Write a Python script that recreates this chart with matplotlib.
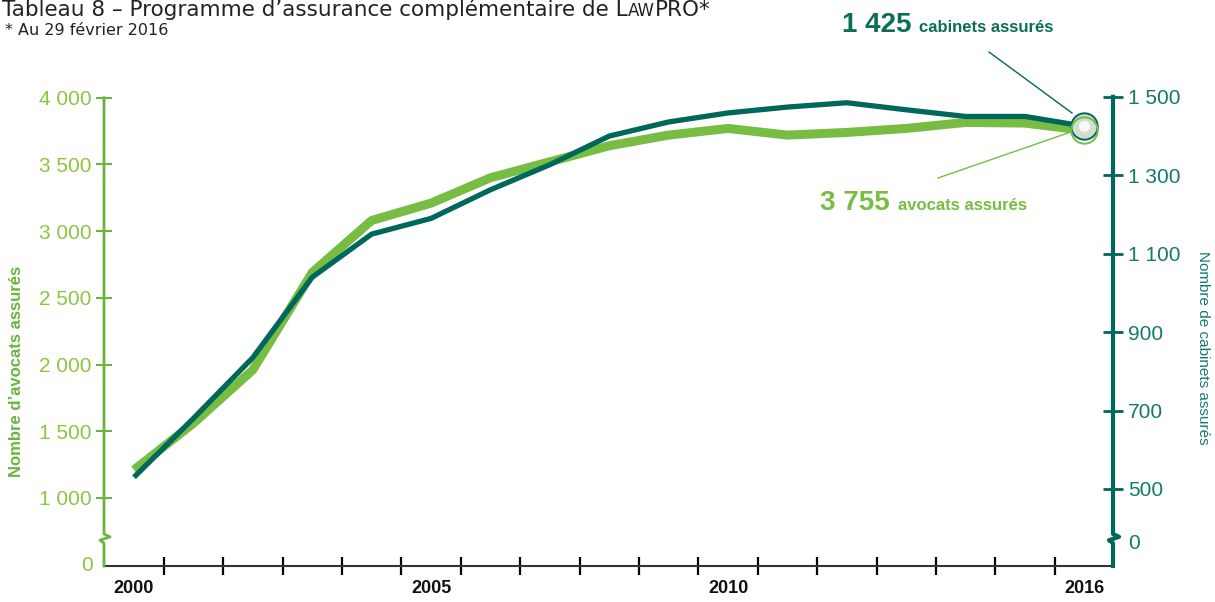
import matplotlib
matplotlib.use("Agg")
import matplotlib.pyplot as plt
import numpy as np
from matplotlib.lines import Line2D

W, H = 1215, 602
GREEN, GREEN_TXT, GREEN_LBL = "#77bd43", "#8cc63f", "#6cb33f"
TEAL, TEAL_TXT, TEAL_BIG = "#00675b", "#137a6b", "#0b6e55"
SANS = ["Liberation Sans", "DejaVu Sans"]

# data
years = list(range(2000, 2017))
avocats = [1210, 1560, 1960, 2690, 3080, 3210, 3400, 3520, 3640, 3720,
           3770, 3720, 3740, 3770, 3815, 3810, 3755]
cabinets = [530, 680, 835, 1040, 1150, 1190, 1263, 1327, 1400, 1436,
            1459, 1474, 1485, 1467, 1450, 1450, 1425]
avocats_ticks = [1000, 1500, 2000, 2500, 3000, 3500, 4000]
cabinets_ticks = [500, 700, 900, 1100, 1300, 1500]
year_labels = [2000, 2005, 2010, 2016]


def fx(px):
    return px / W


def fy(py):
    return 1 - py / H


def fmt(v):
    return f"{v:,}".replace(",", " ")


fig = plt.figure(figsize=(W / 100, H / 100), dpi=100)
ax = fig.add_axes([fx(104), fy(566), (1113 - 104) / W, (566 - 80) / H])
ax2 = ax.twinx()
ax.set_xlim(1999.495, 2016.48)
ax.set_ylim(490, 4133)
ax2.set_ylim(303.6, 1543)

ax.plot(years, avocats, color=GREEN, lw=6.5, solid_capstyle="butt", solid_joinstyle="round")
ax2.plot(years, cabinets, color=TEAL, lw=3.8, solid_capstyle="butt", solid_joinstyle="round", zorder=3)

# spines
for s in ["top", "right", "left"]:
    ax.spines[s].set_visible(False)
ax.spines["bottom"].set_color("#333")
ax.spines["bottom"].set_linewidth(1.5)
for s in ax2.spines.values():
    s.set_visible(False)

# left / right spines with axis break
y0, y1 = ax.get_ylim()
ltop = (4000 - y0) / (y1 - y0)
ax.plot([0, 0, -0.004, 0.006, 0, 0], [0, 0.047, 0.053, 0.060, 0.066, ltop],
        transform=ax.transAxes, clip_on=False, color=GREEN_LBL, lw=2, zorder=4)
r0, r1 = ax2.get_ylim()
rtop = (1500 - r0) / (r1 - r0)
ax2.plot([1, 1, 0.996, 1.006, 1, 1], [0, 0.047, 0.053, 0.060, 0.066, rtop],
         transform=ax2.transAxes, clip_on=False, color=TEAL, lw=3, zorder=4)

# ticks
ax.set_yticks(avocats_ticks)
ax.set_yticklabels([fmt(v) for v in avocats_ticks], family=SANS)
ax.tick_params(axis="y", direction="inout", length=12, width=1.5, color=GREEN_LBL,
               labelcolor=GREEN_TXT, labelsize=15, pad=3)
ax.set_xticks(np.arange(2000.5, 2016, 1))
ax.tick_params(axis="x", direction="inout", length=13, width=1.6, color="black", labelbottom=False)
ax2.set_yticks(cabinets_ticks)
ax2.set_yticklabels([fmt(v) for v in cabinets_ticks], family=SANS)
ax2.tick_params(axis="y", direction="inout", length=14, width=2, color=TEAL,
                labelcolor=TEAL_TXT, labelsize=15, pad=4)

ax.text(-0.011, 0.002, "0", transform=ax.transAxes, ha="right", va="center",
        color=GREEN_TXT, fontsize=15, family=SANS)
ax2.text(1.0149, 0.047, "0", transform=ax2.transAxes, ha="left", va="center",
         color=TEAL_TXT, fontsize=15, family=SANS)
for yr in year_labels:
    ax.text(yr, -0.046, str(yr), transform=ax.get_xaxis_transform(), ha="center", va="center",
            fontsize=13, fontweight="bold", family=SANS, color="#111")

fig.text(fx(17), fy(371), "Nombre d’avocats assurés", rotation=90, ha="center", va="center",
         fontsize=12, fontweight="bold", color=GREEN_LBL, family=SANS)
fig.text(fx(1203), fy(348), "Nombre de cabinets assurés", rotation=270, ha="center", va="center",
         fontsize=11, color=TEAL_TXT, family=SANS)

# end marker
ax2.plot([2016], [cabinets[-1]], "o", ms=19, mfc="#d3ddd0", mec=TEAL, mew=1.4, zorder=6, clip_on=False)
ax2.plot([2016], [avocats[-1]], "o", transform=ax.transData, ms=19, mfc="none", mec=GREEN,
         mew=1.4, zorder=7, clip_on=False)
ax2.plot([2016], [cabinets[-1]], "o", ms=8, mfc="white", mec="none", alpha=0.85, zorder=8, clip_on=False)

# leader lines
fig.add_artist(Line2D([fx(989), fx(1072)], [fy(52), fy(113)], color=TEAL, lw=1))
fig.add_artist(Line2D([fx(938), fx(1068)], [fy(178), fy(133)], color=GREEN, lw=1))

renderer = fig.canvas.get_renderer()


def runs(x_px, base_px, parts):
    x = fx(x_px)
    for txt, kw in parts:
        t = fig.text(x, fy(base_px), txt, va="baseline", ha="left", **kw)
        x = t.get_window_extent(renderer=renderer).x1 / W


title_kw = dict(fontsize=15.5, color="#222", family="DejaVu Sans")
runs(2, 16, [("Tableau 8 – Programme d’assurance complémentaire de L", title_kw),
             ("AW", dict(title_kw, fontsize=12)),
             ("PRO*", title_kw)])
fig.text(fx(5), fy(35), "* Au 29 février 2016", fontsize=11.5, color="#222", family="DejaVu Sans",
         va="baseline")

runs(842, 32, [("1 425 ", dict(fontsize=20, fontweight="bold", color=TEAL_BIG, family=SANS)),
               ("cabinets assurés", dict(fontsize=12, fontweight="bold", color=TEAL_BIG, family=SANS))])
runs(820, 210, [("3 755 ", dict(fontsize=20, fontweight="bold", color=GREEN, family=SANS)),
                ("avocats assurés", dict(fontsize=12, fontweight="bold", color=GREEN, family=SANS))])

fig.savefig("out.png", dpi=100)
